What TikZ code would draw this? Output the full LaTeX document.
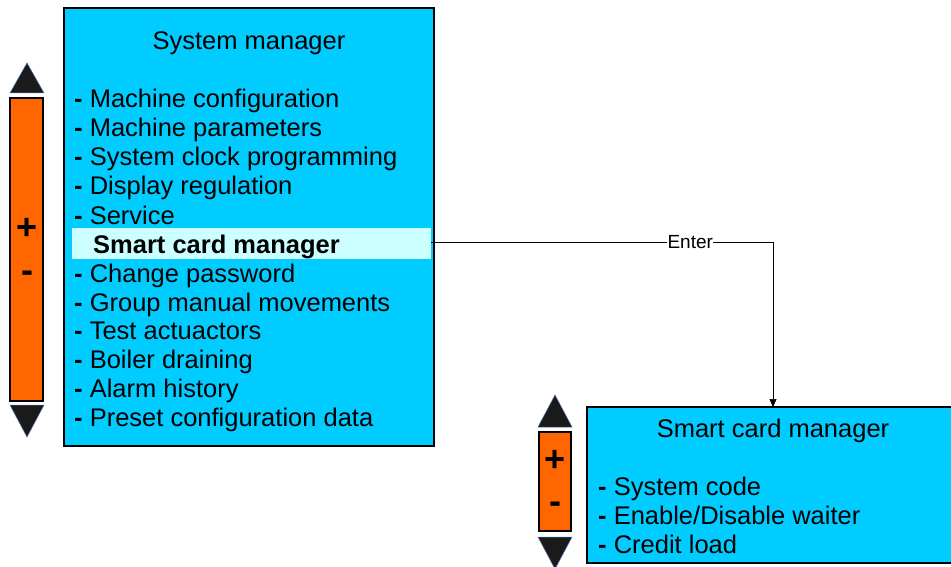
\documentclass[tikz,border=0pt]{standalone}
\usepackage{fontspec}
\setmainfont{Liberation Sans}
\usetikzlibrary{positioning,arrows.meta}
\definecolor{panel}{HTML}{00CCFF}
\definecolor{selbar}{HTML}{CCFFFF}
\definecolor{slider}{HTML}{FF6600}
\definecolor{knob}{HTML}{1A1A1A}
\definecolor{rim}{HTML}{4A6FB5}

\begin{document}
\begin{tikzpicture}[
  x=1pt, y=-1pt,
  panelbox/.style={draw, line width=1.6pt, fill=panel},
  item/.style={anchor=base west, inner sep=0pt, font=\fontsize{25.5}{25.5}\selectfont},
  head/.style={anchor=base, inner sep=0pt, font=\fontsize{25.5}{25.5}\selectfont},
  bar/.style={draw, line width=1.6pt, fill=slider},
  tip/.style={fill=knob, draw=rim, line width=0.5pt},
  sign/.style={inner sep=0pt, font=\fontsize{36}{36}\selectfont\bfseries},
  >={Triangle[length=8pt, width=7pt]}
]
\useasboundingbox (0,0) rectangle (951,567);

% left menu
\draw[panelbox] (64,8) rectangle (434,446);
\node[head] (sys) at (249,50) {System manager};
\fill[selbar] (72,228) rectangle (431,259);
\node[item] (it1) at (74,108) {\textbf{-} Machine configuration};
\node[item] (it2) at (74,137) {\textbf{-} Machine parameters};
\node[item] (it3) at (74,166) {\textbf{-} System clock programming};
\node[item] (it4) at (74,195) {\textbf{-} Display regulation};
\node[item] (it5) at (74,224) {\textbf{-} Service};
\node[item, font=\fontsize{25.5}{25.5}\selectfont\bfseries] (it6) at (93,253) {Smart card manager};
\node[item] (it7) at (74,282) {\textbf{-} Change password};
\node[item] (it8) at (74,311) {\textbf{-} Group manual movements};
\node[item] (it9) at (74,339) {\textbf{-} Test actuactors};
\node[item] (it10) at (74,368) {\textbf{-} Boiler draining};
\node[item] (it11) at (74,397) {\textbf{-} Alarm history};
\node[item] (it12) at (74,426) {\textbf{-} Preset configuration data};
\coordinate (selend) at (431,242);

% left slider
\draw[tip] (27,63) -- (44,93) -- (10,93) -- cycle;
\draw[bar] (10,98) rectangle (43,401);
\draw[tip] (10,405) -- (44,405) -- (27,437) -- cycle;
\node[sign] (plus1) at (27,229) {+};
\node[sign] (minus1) at (27,277) {-};

% right menu
\draw[panelbox] (587,407) rectangle (960,563);
\node[head] (card) at (773,437) {Smart card manager};
\node[item] (sc1) at (598,495) {\textbf{-} System code};
\node[item] (sc2) at (598,524) {\textbf{-} Enable/Disable waiter};
\node[item] (sc3) at (598,553) {\textbf{-} Credit load};
\coordinate (cardtop) at (773,407);

% right slider
\draw[tip] (555,395) -- (572,427) -- (538,427) -- cycle;
\draw[bar] (539,432) rectangle (571,531);
\draw[tip] (538,537) -- (572,537) -- (555,569) -- cycle;
\node[sign] (plus2) at (555,461) {+};
\node[sign] (minus2) at (555,508) {-};

% link
\draw[->, line width=0.6pt] (selend) -| node[pos=0.379, fill=white, inner sep=0.5pt, font=\fontsize{19}{19}\selectfont] {Enter} (cardtop);
\end{tikzpicture}
\end{document}
